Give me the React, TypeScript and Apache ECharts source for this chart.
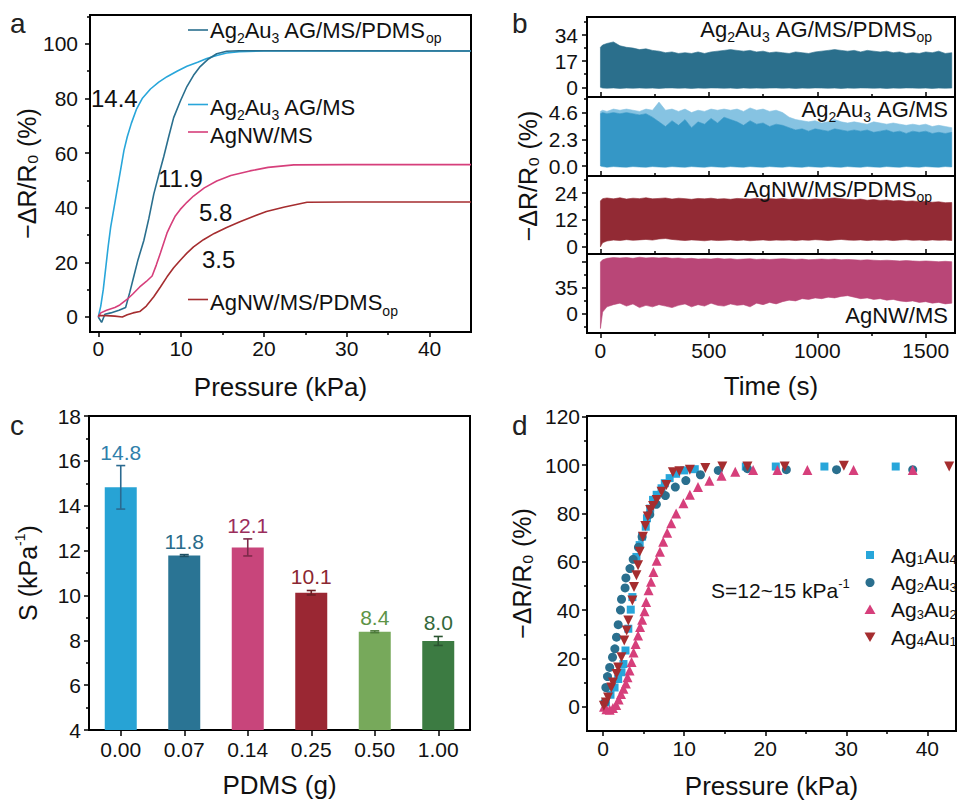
import React, { useEffect, useRef } from 'react';
import * as echarts from 'echarts';

const FF = '"Liberation Sans", Arial, Helvetica, sans-serif';
const INK = '#111111';

// ---------- Panel a : response vs pressure ----------
const A_AG_MS: number[][] = [[0,0],[0.3,4],[0.6,10],[0.9,18],[1.2,26],[1.5,33],[1.9,40],[2.3,47],[2.7,54],[3.1,61],[3.5,66],[4.0,71],[4.6,76],[5.3,80],[6.3,83.5],[7.3,86],[8.3,88],[9.5,90],[10.7,91.8],[12,93.3],[13.1,94.7],[14.3,95.8],[15.5,96.7],[17,97.2],[20,97.4],[30,97.5],[45,97.4]];
const A_AG_MS_PDMS: number[][] = [[0,0],[0.4,-2],[0.8,1],[1.5,1.5],[2.5,2.5],[3.3,3.5],[3.8,9],[4.3,15],[4.8,21],[5.5,28],[6.1,36],[6.7,45],[7.3,52],[7.9,58.7],[8.5,66],[9.1,73],[9.9,79],[10.7,84.4],[11.5,88.5],[12.3,91.7],[13.3,94.5],[14.3,96.4],[15.5,97.3],[17,97.5],[25,97.5],[45,97.4]];
const A_NW_MS: number[][] = [[0,0],[0.3,1.5],[1,2.5],[2,3.5],[2.6,4.4],[3.5,6.5],[4.2,8.5],[5,11],[5.8,13],[6.5,15],[7,19],[7.5,23.4],[8,28],[8.3,30.8],[8.8,34],[9.3,37],[9.9,39.4],[10.7,42],[11.5,44.3],[12.8,47.3],[14.3,49.8],[16,51.8],[18.3,53.5],[20.5,54.8],[23.6,55.7],[30,55.8],[45,55.8]];
const A_NW_MS_PDMS: number[][] = [[0,0.5],[1,0.5],[2,0.3],[2.9,0],[3.5,0.8],[4.2,1.5],[5,2],[5.8,4],[6.7,7.4],[7.5,11],[8.3,14.7],[9.1,18],[9.9,20.8],[10.7,23.4],[11.5,25.7],[12.7,28.3],[14,30.6],[15.5,32.8],[17.1,34.9],[18.7,36.8],[20.3,38.6],[22.5,40.3],[25.2,42],[30,42.1],[45,42.1]];
const A_SENS = ['14.4', '11.9', '5.8', '3.5'];

// ---------- Panel b : cycling stability (signal envelopes) ----------
const TIME = [0,10,30,60,90,120,150,180,210,240,270,300,330,360,390,420,450,480,510,540,570,600,630,660,690,720,750,780,810,840,870,900,930,960,990,1020,1050,1080,1110,1140,1170,1200,1230,1260,1290,1320,1350,1380,1410,1440,1470,1500,1530,1560,1590,1620];
const B1_HI = [26,27.5,28.5,29.5,27,26,25.5,24.5,25,24, 23.5,22.5,23,22,22.5,22,23,22,23,23.5, 24,24.5,24,23.5,24,23,23.5,22.5,23,22.5, 22,23,22.5,22,23,23.5,24,24.5,24,23.5, 24,23,24,23.5,23,23.5,22.5,23,22,22.5, 22,23,22.5,23.5,22,22.5];
const B1_LO = [0,-0.5,-0.6,-0.4,-0.7,-0.5,-0.6,-0.4,-0.6,-0.5, -0.7,-0.5,-0.4,-0.6,-0.5,-0.7,-0.5,-0.6,-0.4,-0.5, -0.6,-0.5,-0.7,-0.4,-0.6,-0.5,-0.6,-0.5,-0.4,-0.6, -0.5,-0.7,-0.5,-0.6,-0.4,-0.5,-0.6,-0.5,-0.7,-0.5, -0.6,-0.4,-0.5,-0.6,-0.5,-0.7,-0.5,-0.6,-0.4,-0.5, -0.6,-0.5,-0.7,-0.5,-0.6,-0.5];
const B2_HI = [4.7,4.8,4.7,4.9,4.8,4.9,4.8,4.7,4.9,4.8, 5.5,4.8,4.9,4.7,4.9,4.6,4.8,4.7,4.9,4.8, 4.9,4.8,4.9,4.7,5.0,4.8,4.9,4.7,4.8,4.6, 4.2,4.0,3.9,3.8,3.9,3.7,3.8,4.0,3.8,3.7, 3.8,3.7,3.6,3.8,3.7,3.6,3.7,3.6,3.5,3.6, 3.5,3.6,3.4,3.5,3.4,3.3];
const B2_CORE = [4.5,4.6,4.5,4.6,4.5,4.6,4.5,4.4,4.5,4.2, 3.8,3.4,3.9,3.5,4.0,3.3,3.8,3.6,4.1,3.7, 4.2,4.0,3.8,3.5,3.9,3.6,3.7,3.4,3.6,3.5, 3.3,3.1,3.2,3.0,3.2,3.1,3.0,3.2,3.1,3.0, 3.1,3.0,3.1,2.9,3.0,3.1,2.9,3.0,2.8,3.0, 2.9,3.0,2.8,2.9,2.8,2.9];
const B2_LO = [0,-0.05,-0.1,-0.05,-0.08,-0.1,-0.05,-0.08,-0.1,-0.05, -0.08,-0.1,-0.05,-0.08,-0.1,-0.05,-0.08,-0.1,-0.05,-0.08, -0.1,-0.05,-0.08,-0.1,-0.05,-0.08,-0.1,-0.05,-0.08,-0.1, -0.05,-0.08,-0.1,-0.05,-0.08,-0.1,-0.05,-0.08,-0.1,-0.05, -0.08,-0.1,-0.05,-0.08,-0.1,-0.05,-0.08,-0.1,-0.05,-0.08, -0.1,-0.05,-0.08,-0.1,-0.05,-0.08];
const B3_HI = [20.5,21.5,21.8,21.4,21.9,21.3,21.7,21.5,21.9,21.4, 21.6,21.8,21.3,21.7,21.5,21.2,21.6,21.4,21.7,21.3, 21.5,21.2,21.6,21.4,21.3,21.7,21.2,21.5,21.3,21.6, 21.2,21.5,21.3,21.1,21.4,21.2,21.6,21.8,21.5,21.2, 21.0,21.3,20.8,21.1,20.7,20.9,20.5,20.7,20.3,20.5, 20.1,20.3,19.9,20.1,19.7,19.8];
const B3_LO = [0,1.8,2.6,3.0,2.8,3.2,2.9,3.1,3.3,3.0, 3.5,3.7,3.3,3.0,2.8,3.1,2.9,2.7,3.0,2.8, 2.9,3.1,2.8,3.0,2.7,2.9,3.1,2.8,3.0,2.9, 3.0,2.8,3.1,2.9,3.2,3.0,2.8,3.1,3.3,3.0, 2.9,3.1,2.8,3.0,2.9,3.1,2.8,3.0,3.2,2.9, 3.0,2.8,3.1,2.9,3.0,2.8];
const B4_HI = [69,72,74,75,74.5,75,74,75.5,74.5,75, 74.5,75,74,74.5,73.5,74,73,73.5,73,74, 73,73.5,72.5,73,73.5,72.5,73,72.5,73,73.5, 73,72.5,73,72,72.5,73,72.5,73,72,72.5, 72,71.5,72,71.5,71,71.5,71,70.5,71,70.5, 70,70.5,70,69.5,70,69.5];
const B4_LO = [-20,2,9,12,14,10,13,8,11,9, 12,10,8,11,13,9,12,10,14,11, 10,13,11,12,9,14,12,15,13,16, 18,17,20,19,21,20,22,21,23,24, 22,20,21,19,20,18,19,17,16,17, 15,16,14,15,13,14];

// ---------- Panel c : sensitivity vs PDMS ----------
const PDMS = ['0.00', '0.07', '0.14', '0.25', '0.50', '1.00'];
const S_VALUES = [14.82, 11.78, 12.14, 10.12, 8.38, 7.97];
const S_ERR = [0.97, 0.04, 0.38, 0.1, 0.04, 0.2];

// ---------- Panel d : composition series ----------
const D_NAMES = ['Ag1Au4', 'Ag2Au3', 'Ag3Au2', 'Ag4Au1'];
const D_AG1AU4: number[][] = [[0.33,1.8],[0.9,5],[1.4,8],[1.85,11.5],[2.26,14.3],[2.5,17.7],[2.75,23.3],[3.1,32.3],[3.4,40.2],[3.6,45.4],[4.1,62],[4.5,66.9],[4.8,70.4],[5.25,74.5],[5.4,78],[5.8,82],[6.15,85.6],[6.6,87.7],[7.2,90.4],[7.6,92.5],[8.2,94.6],[9,96.4],[10,97.8],[11.3,98.3],[17.6,99.4],[21.3,99.4],[27.3,99.4],[36.1,99.4]];
const D_AG2AU3: number[][] = [[0.2,1.8],[0.33,8],[0.53,12.5],[0.8,16.3],[1.15,20.5],[1.44,24],[1.64,28.8],[1.85,34],[2.13,40],[2.26,44.5],[2.7,49.2],[2.8,53.3],[3.3,57.2],[3.7,61],[4.35,66],[4.8,70.4],[5.75,79.6],[6.56,83.8],[7.67,87.4],[8.9,90.9],[10.2,93.6],[12,96],[14.2,97.8],[17.8,98.5],[22.6,98.1],[28.8,98.1],[38.2,98.1]];
const D_AG3AU2: number[][] = [[0.1,0],[0.4,-1],[0.8,-1.2],[1.2,-0.5],[1.6,0.8],[1.9,3],[2.2,5.3],[2.5,7.5],[2.8,9.6],[3.0,12.2],[3.25,15],[3.5,18.5],[3.75,22.5],[4.0,26],[4.3,29.5],[4.55,33],[4.8,36],[5.1,39.5],[5.3,43.4],[5.6,48.2],[5.9,51.7],[6.2,55.8],[6.6,60.4],[7.0,64.1],[7.4,68.3],[7.9,72],[8.4,75.9],[9.0,80],[9.9,84.2],[10.7,87.7],[11.7,90.9],[13.1,93.5],[14.6,95.6],[16.3,97.2],[18.5,98],[21.5,98],[25.2,98],[30.9,98],[38.2,98]];
const D_AG4AU1: number[][] = [[0.08,0.4],[0.33,1.8],[0.6,3.9],[1,8],[1.2,10.1],[1.64,13.6],[1.85,16.3],[2.26,20.5],[2.6,27.4],[2.9,31.6],[3.1,35.7],[3.6,44],[3.8,49.6],[4.1,54.4],[4.3,58.6],[4.5,64.1],[4.9,70.4],[5.2,74.8],[5.5,78.7],[5.8,81.4],[6.15,83.1],[6.6,85.6],[7.2,89],[7.8,91.8],[8.6,97],[9.4,97.4],[10.7,98.1],[12.6,98.8],[14.7,99.4],[17.8,99.4],[22.4,99.4],[29.7,99.7],[42.7,99.4]];
const D_X_MAJOR = [0, 10, 20, 30, 40];
const D_X_MINOR = [5, 15, 25, 35];
const D_Y_MAJOR = [0, 20, 40, 60, 80, 100, 120];
const D_Y_MINOR = [10, 30, 50, 70, 90, 110];

// ---------- styles ----------
const C_LBLUE = '#28a6da';
const C_TEAL = '#2a6f8e';
const C_PINK = '#d63f7b';
const C_RED = '#a52d2f';
const BAR_COLORS = ['#27a3d5', '#2a7494', '#c8457b', '#9a2733', '#77a95b', '#3c7b42'];
const LABEL_COLORS = ['#2f80ab', '#2a6b8a', '#9b2d5c', '#8b2731', '#5e9446', '#33683a'];
const ERR_COLORS = ['#2b6a90', '#1e4f63', '#7d2a4a', '#6b1f26', '#4d7a3a', '#2a5530'];

// panel d lives in its own chart instance placed over the lower-right quarter of the page
const D_BOX = { left: 480, top: 400, width: 477, height: 400 };
const GRID_D = { left: 107, top: 16, width: 369, height: 315 };

const RICH_SUB: any = {
  m: { fontSize: 22, lineHeight: 30, fontFamily: FF, fill: INK, color: INK },
  s: { fontSize: 14, lineHeight: 14, verticalAlign: 'bottom', fontFamily: FF, fill: INK, color: INK },
};
const RICH_LEG: any = {
  m: { fontSize: 21, lineHeight: 22, fontFamily: FF, fill: INK, color: INK },
  s: { fontSize: 13, lineHeight: 16, verticalAlign: 'bottom', fontFamily: FF, fill: INK, color: INK },
};

function valuePair(dim: 'x' | 'y', c: any) {
  const position = dim === 'x' ? 'bottom' : 'left';
  const base: any = { type: 'value', gridIndex: c.grid, min: c.min, max: c.max, position, splitLine: { show: false } };
  const major: any = {
    ...base,
    axisLine: { show: true, onZero: false, lineStyle: { color: '#000', width: 2 } },
    axisTick: { show: true, customValues: c.major, inside: !!c.inside, length: c.majorLen ?? 5, lineStyle: { color: '#000', width: 1.5 } },
    axisLabel: c.labels
      ? { show: true, customValues: c.labels, fontSize: 21, fontFamily: FF, color: INK, margin: c.margin ?? 7, formatter: c.fmt || ((v: number) => String(v)) }
      : { show: false },
    name: c.name || '',
    nameLocation: 'middle',
    nameGap: c.nameGap ?? 40,
    nameTextStyle: { fontSize: c.nameSize ?? 26, fontFamily: FF, color: INK, rich: c.nameRich },
  };
  const minor: any = {
    ...base,
    axisLine: { show: false, onZero: false },
    axisTick: { show: true, customValues: c.minor, inside: !!c.inside, length: c.minorLen ?? 3, lineStyle: { color: '#000', width: 1.5 } },
    axisLabel: { show: false },
    name: '',
  };
  return [major, minor];
}

function txt(x: number, y: number, text: string, opts: any = {}) {
  const align = opts.align || 'left';
  return {
    type: 'text', x, y, rotation: opts.rotation || 0, z: 100,
    style: {
      text, fontSize: opts.fontSize ?? 22, fontFamily: FF, fill: opts.color || INK,
      align, textAlign: align, verticalAlign: 'middle', textVerticalAlign: 'middle',
      rich: opts.rich,
    },
  };
}

const gridStyle = { show: true, borderColor: '#000', borderWidth: 2, backgroundColor: 'transparent', containLabel: false, outerBoundsMode: 'none' };

function buildMain() {
  const grids: any[] = [
    { left: 90, top: 15, width: 381, height: 317 },
    { left: 587, top: 17, width: 368, height: 80 },
    { left: 587, top: 97, width: 368, height: 79 },
    { left: 587, top: 176, width: 368, height: 78 },
    { left: 587, top: 254, width: 368, height: 79 },
    { left: 89, top: 416, width: 381, height: 314 },
  ].map((g) => ({ ...g, ...gridStyle }));

  const xAxis: any[] = [];
  const yAxis: any[] = [];

  // panel a
  xAxis.push(...valuePair('x', { grid: 0, min: -1, max: 45, major: [0, 10, 20, 30, 40], labels: [0, 10, 20, 30, 40], minor: [5, 15, 25, 35], margin: 6, name: 'Pressure (kPa)', nameGap: 42 }));
  yAxis.push(...valuePair('y', { grid: 0, min: -5.5, max: 110.6, major: [0, 20, 40, 60, 80, 100], labels: [0, 20, 40, 60, 80, 100], minor: [10, 30, 50, 70, 90, 110], margin: 12, name: '\u2212\u0394R/R\u2080 (%)', nameGap: 47, nameSize: 25 }));

  // panel b
  const bY = [
    { min: -6.3, max: 45.7, major: [0, 17, 34], minor: [8.5, 25.5, 42.5] },
    { min: -0.86, max: 5.94, major: [0, 2.3, 4.6], minor: [1.15, 3.45, 5.75], fmt: (v: number) => v.toFixed(1) },
    { min: -3.2, max: 31.6, major: [0, 12, 24], minor: [6, 18, 30] },
    { min: -26, max: 79.8, major: [0, 35, 70], labels: [0, 35], minor: [-17.5, 17.5, 52.5] },
  ];
  bY.forEach((b, k) => {
    const last = k === 3;
    xAxis.push(...valuePair('x', {
      grid: 1 + k, min: -62, max: 1635, major: [0, 500, 1000, 1500], labels: last ? [0, 500, 1000, 1500] : null,
      minor: [250, 750, 1250], inside: !last, margin: 7, name: last ? 'Time (s)' : '', nameGap: 40,
    }));
    yAxis.push(...valuePair('y', { grid: 1 + k, min: b.min, max: b.max, major: b.major, labels: b.labels || b.major, minor: b.minor, margin: 9, fmt: b.fmt }));
  });

  // panel c
  xAxis.push({
    type: 'category', gridIndex: 5, data: PDMS, position: 'bottom',
    axisLine: { show: true, onZero: false, lineStyle: { color: '#000', width: 2 } },
    axisTick: { show: true, alignWithLabel: true, length: 6, lineStyle: { color: '#000', width: 1.5 } },
    axisLabel: { fontSize: 21, fontFamily: FF, color: INK, margin: 9 },
    name: 'PDMS (g)', nameLocation: 'middle', nameGap: 42,
    nameTextStyle: { fontSize: 26, fontFamily: FF, color: INK },
  });
  yAxis.push({
    type: 'value', gridIndex: 5, min: 4, max: 18, interval: 2, position: 'left',
    splitLine: { show: false },
    axisLine: { show: true, onZero: false, lineStyle: { color: '#000', width: 2 } },
    axisTick: { show: true, length: 5, lineStyle: { color: '#000', width: 1.5 } },
    minorTick: { show: true, splitNumber: 2, length: 3, lineStyle: { color: '#000', width: 1.5 } },
    axisLabel: { fontSize: 21, fontFamily: FF, color: INK, margin: 8 },
    name: '{m|S (kPa}{sup|-1}{m|)}', nameLocation: 'middle', nameGap: 46,
    nameTextStyle: {
      fontFamily: FF, color: INK,
      rich: {
        m: { fontSize: 25, lineHeight: 30, fontFamily: FF, color: INK },
        sup: { fontSize: 14, lineHeight: 20, verticalAlign: 'top', fontFamily: FF, color: INK },
      },
    },
  });

  const series: any[] = [];
  const aLines = [
    { d: A_AG_MS, c: C_LBLUE },
    { d: A_AG_MS_PDMS, c: C_TEAL },
    { d: A_NW_MS, c: C_PINK },
    { d: A_NW_MS_PDMS, c: C_RED },
  ];
  aLines.forEach((l) => series.push({
    type: 'line', xAxisIndex: 0, yAxisIndex: 0, data: l.d, symbol: 'none',
    lineStyle: { color: l.c, width: 1.6 }, itemStyle: { color: l.c }, z: 3,
  }));

  const bands = [
    { k: 0, lo: B1_LO, hi: B1_HI, c: '#2b6f8c', z: 2 },
    { k: 1, lo: B2_CORE, hi: B2_HI, c: '#86c3e2', z: 2 },
    { k: 1, lo: B2_LO, hi: B2_CORE, c: '#3597c6', z: 3 },
    { k: 2, lo: B3_LO, hi: B3_HI, c: '#922a34', z: 2 },
    { k: 3, lo: B4_LO, hi: B4_HI, c: '#b94677', z: 2 },
  ];
  bands.forEach((b) => {
    const ai = 2 + 2 * b.k;
    series.push({
      type: 'custom', xAxisIndex: ai, yAxisIndex: ai, silent: true, z: b.z,
      data: [[TIME[0], b.lo[0]]],
      renderItem: (_params: any, api: any) => {
        const pts: number[][] = [];
        TIME.forEach((t, i) => pts.push(api.coord([t, b.hi[i]])));
        for (let i = TIME.length - 1; i >= 0; i--) pts.push(api.coord([TIME[i], b.lo[i]]));
        return { type: 'polygon', shape: { points: pts }, style: { fill: b.c, stroke: b.c, lineWidth: 0.6 } };
      },
    });
  });

  series.push({
    type: 'bar', xAxisIndex: 10, yAxisIndex: 10, barWidth: 32,
    data: S_VALUES.map((v, i) => ({ value: v, itemStyle: { color: BAR_COLORS[i] } })), z: 2,
  });
  series.push({
    type: 'custom', xAxisIndex: 10, yAxisIndex: 10, z: 4,
    data: S_VALUES.map((v, i) => [i, v - S_ERR[i], v + S_ERR[i]]),
    renderItem: (params: any, api: any) => {
      const x = api.value(0);
      const pLo = api.coord([x, api.value(1)]);
      const pHi = api.coord([x, api.value(2)]);
      const c = ERR_COLORS[params.dataIndex];
      const hw = 4.5;
      const st = { stroke: c, lineWidth: 1.6 };
      const label = S_VALUES[params.dataIndex].toFixed(1);
      return {
        type: 'group',
        children: [
          { type: 'line', shape: { x1: pLo[0], y1: pLo[1], x2: pHi[0], y2: pHi[1] }, style: st },
          { type: 'line', shape: { x1: pLo[0] - hw, y1: pLo[1], x2: pLo[0] + hw, y2: pLo[1] }, style: st },
          { type: 'line', shape: { x1: pHi[0] - hw, y1: pHi[1], x2: pHi[0] + hw, y2: pHi[1] }, style: st },
          {
            type: 'text', x: pHi[0], y: pHi[1] - 3,
            style: { text: label, fill: LABEL_COLORS[params.dataIndex], fontSize: 21, fontFamily: FF, align: 'center', verticalAlign: 'bottom', textAlign: 'center', textVerticalAlign: 'bottom' },
          },
        ],
      };
    },
  });

  const graphic: any[] = [
    txt(10, 23, 'a', { fontSize: 28, color: '#222' }),
    txt(512, 23, 'b', { fontSize: 28, color: '#222' }),
    txt(10, 425, 'c', { fontSize: 28, color: '#222' }),
    txt(91, 98.5, A_SENS[0], { fontSize: 24 }),
    txt(158, 178, A_SENS[1], { fontSize: 24 }),
    txt(199, 212.5, A_SENS[2], { fontSize: 24 }),
    txt(202, 259, A_SENS[3], { fontSize: 24 }),
    { type: 'line', z: 100, shape: { x1: 188, y1: 30, x2: 208, y2: 30 }, style: { stroke: C_TEAL, lineWidth: 1.6 } },
    txt(210, 30, '{m|Ag}{s|2}{m|Au}{s|3}{m| AG/MS/PDMS}{s|op}', { rich: RICH_SUB }),
    { type: 'line', z: 100, shape: { x1: 188, y1: 104.5, x2: 208, y2: 104.5 }, style: { stroke: C_LBLUE, lineWidth: 1.6 } },
    txt(210, 107, '{m|Ag}{s|2}{m|Au}{s|3}{m| AG/MS}', { rich: RICH_SUB }),
    { type: 'line', z: 100, shape: { x1: 188, y1: 132, x2: 208, y2: 132 }, style: { stroke: C_PINK, lineWidth: 1.6 } },
    txt(210, 135.5, '{m|AgNW/MS}', { rich: RICH_SUB }),
    { type: 'line', z: 100, shape: { x1: 188, y1: 299.5, x2: 208, y2: 299.5 }, style: { stroke: C_RED, lineWidth: 1.6 } },
    txt(210, 302.5, '{m|AgNW/MS/PDMS}{s|op}', { rich: RICH_SUB }),
    txt(932, 29, '{m|Ag}{s|2}{m|Au}{s|3}{m| AG/MS/PDMS}{s|op}', { rich: RICH_SUB, align: 'right' }),
    txt(948, 109, '{m|Ag}{s|2}{m|Au}{s|3}{m| AG/MS}', { rich: RICH_SUB, align: 'right' }),
    txt(932, 189, '{m|AgNW/MS/PDMS}{s|op}', { rich: RICH_SUB, align: 'right' }),
    txt(948, 315.5, '{m|AgNW/MS}', { rich: RICH_SUB, align: 'right' }),
    txt(528, 176, '\u2212\u0394R/R\u2080 (%)', { fontSize: 25, align: 'center', rotation: Math.PI / 2 }),
  ];

  return {
    animation: false,
    backgroundColor: '#ffffff',
    textStyle: { fontFamily: FF, color: INK },
    grid: grids,
    xAxis,
    yAxis,
    series,
    graphic,
  };
}

function buildD() {
  const xAxis = valuePair('x', { grid: 0, min: -2, max: 43.54, major: D_X_MAJOR, labels: D_X_MAJOR, minor: D_X_MINOR, margin: 7, name: 'Pressure (kPa)', nameGap: 42 });
  const yAxis = valuePair('y', { grid: 0, min: -10, max: 120.3, major: D_Y_MAJOR, labels: D_Y_MAJOR, minor: D_Y_MINOR, margin: 7, name: '\u2212\u0394R/R\u2080 (%)', nameGap: 42, nameSize: 25 });

  const dSeries = [
    { name: D_NAMES[0], d: D_AG1AU4, c: C_LBLUE, sym: 'rect', size: 8 },
    { name: D_NAMES[1], d: D_AG2AU3, c: C_TEAL, sym: 'circle', size: 9 },
    { name: D_NAMES[2], d: D_AG3AU2, c: C_PINK, sym: 'triangle', size: 10 },
    { name: D_NAMES[3], d: D_AG4AU1, c: C_RED, sym: 'path://M0,0L10,0L5,9Z', size: 10 },
  ];
  const series = dSeries.map((s) => ({
    type: 'scatter', name: s.name, xAxisIndex: 0, yAxisIndex: 0, data: s.d,
    symbol: s.sym, symbolSize: s.size, itemStyle: { color: s.c, opacity: 1 }, z: 3,
  }));

  const ox = D_BOX.left, oy = D_BOX.top;
  const legY = [555 - oy, 582.5 - oy, 609.5 - oy, 637 - oy];
  const lx = 870 - ox;
  const legText = ['{m|Ag}{s|1}{m|Au}{s|4}', '{m|Ag}{s|2}{m|Au}{s|3}', '{m|Ag}{s|3}{m|Au}{s|2}', '{m|Ag}{s|4}{m|Au}{s|1}'];
  const graphic: any[] = [
    txt(512 - ox, 425 - oy, 'd', { fontSize: 28, color: '#222' }),
    txt(711 - ox, 590 - oy, '{m|S=12~15 kPa}{sup|-1}', {
      rich: {
        m: { fontSize: 21, lineHeight: 26, fontFamily: FF, fill: INK, color: INK },
        sup: { fontSize: 13, lineHeight: 19, verticalAlign: 'top', fontFamily: FF, fill: INK, color: INK },
      },
    }),
    { type: 'rect', z: 100, shape: { x: lx - 4, y: legY[0] - 4, width: 8, height: 8 }, style: { fill: C_LBLUE } },
    { type: 'circle', z: 100, shape: { cx: lx, cy: legY[1], r: 4.5 }, style: { fill: C_TEAL } },
    { type: 'polygon', z: 100, shape: { points: [[lx, legY[2] - 5], [lx + 5.5, legY[2] + 4.5], [lx - 5.5, legY[2] + 4.5]] }, style: { fill: C_PINK } },
    { type: 'polygon', z: 100, shape: { points: [[lx - 5.5, legY[3] - 4.5], [lx + 5.5, legY[3] - 4.5], [lx, legY[3] + 5]] }, style: { fill: C_RED } },
    ...legText.map((t, i) => txt(lx + 21, legY[i], t, { rich: RICH_LEG })),
  ];

  return {
    animation: false,
    backgroundColor: 'transparent',
    textStyle: { fontFamily: FF, color: INK },
    grid: [{ ...GRID_D, ...gridStyle }],
    xAxis,
    yAxis,
    series,
    graphic,
  };
}

export default function App() {
  const mainRef = useRef<HTMLDivElement>(null);
  const dRef = useRef<HTMLDivElement>(null);
  useEffect(() => {
    if (!mainRef.current || !dRef.current) return;
    const main = echarts.init(mainRef.current, null, { renderer: 'svg' });
    main.setOption(buildMain() as any);
    const d = echarts.init(dRef.current, null, { renderer: 'svg' });
    d.setOption(buildD() as any);
    return () => {
      main.dispose();
      d.dispose();
    };
  }, []);
  return (
    <div style={{ position: 'absolute', left: 0, top: 0, width: 957, height: 800, overflow: 'hidden', background: '#fff' }}>
      <div ref={mainRef} style={{ position: 'absolute', left: 0, top: 0, width: 957, height: 800 }} />
      <div
        ref={dRef}
        style={{ position: 'absolute', left: D_BOX.left, top: D_BOX.top, width: D_BOX.width, height: D_BOX.height, overflow: 'hidden' }}
      />
    </div>
  );
}
